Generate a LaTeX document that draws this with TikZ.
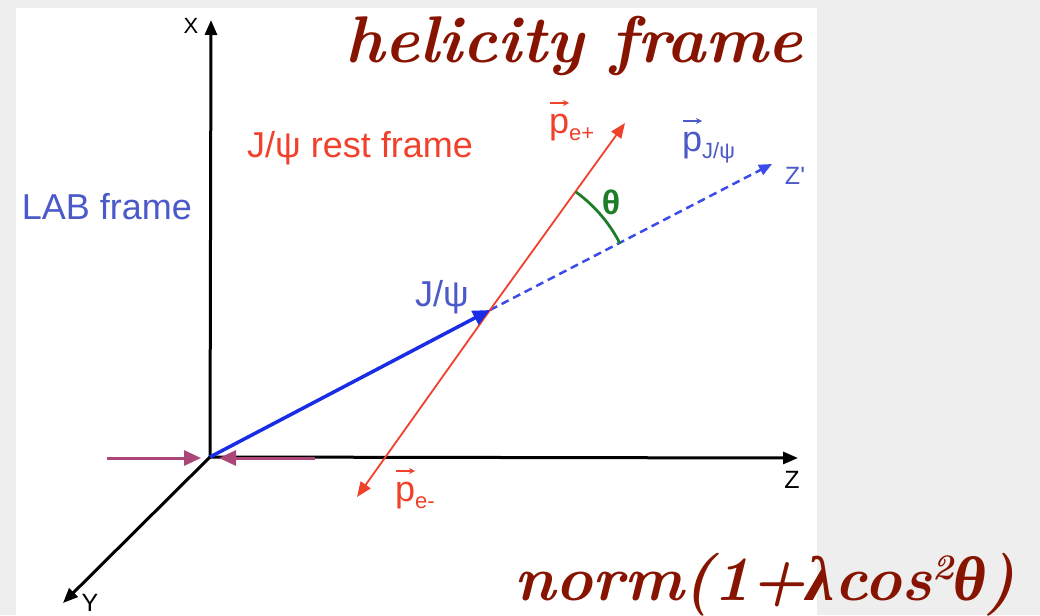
\documentclass[tikz,border=0pt]{standalone}
\usepackage{fontspec}
\newfontfamily\sansf{Liberation Sans}
\newfontfamily\grkf{Liberation Serif}
\usetikzlibrary{arrows.meta}
\definecolor{bggray}{HTML}{EEEEEE}
\definecolor{dred}{RGB}{135,20,0}
\definecolor{lblue}{RGB}{75,90,200}
\definecolor{ablue}{RGB}{25,45,230}
\definecolor{pred}{RGB}{240,65,45}
\definecolor{tgreen}{RGB}{30,125,40}
\definecolor{mag}{RGB}{170,70,120}
\tikzset{
  axisarrow/.style={line width=3pt, black, -{Triangle[length=15pt,width=12pt]}},
  beamarrow/.style={line width=3pt, mag, -{Triangle[length=17pt,width=15pt]}},
  jarrow/.style={line width=3.5pt, ablue, -{Triangle[length=17pt,width=15pt]}},
  dasharrow/.style={line width=2.5pt, ablue!85!white, dash pattern=on 8pt off 5pt, -{Triangle[length=13pt,width=11pt]}},
  earrow/.style={line width=1.8pt, pred, -{Triangle[length=15pt,width=12pt]}},
  vecarr/.style={line width=1.3pt, -{Stealth[length=6pt,width=6pt]}},
  lbl/.style={font=\sansf\fontsize{36}{38}\selectfont, inner sep=0pt},
  smalllbl/.style={font=\sansf\fontsize{25}{26}\selectfont, inner sep=0pt},
  titlelbl/.style={font=\bfseries\itshape\fontsize{66}{72}\selectfont, text=dred, inner sep=0pt, anchor=base west}
}
\newcommand{\subtxt}[1]{\raisebox{-7pt}{\fontsize{22}{22}\selectfont #1}}
\newcommand{\grk}[1]{{\grkf\bfseries\itshape #1}}
\newcommand{\suptwo}{\raisebox{21pt}{\fontsize{36}{36}\selectfont 2}}
\begin{document}
\begin{tikzpicture}[x=1pt,y=-1pt]
\useasboundingbox (0,0) rectangle (1040,615);
\fill[bggray] (0,0) rectangle (1040,615);
\fill[white] (16,8) rectangle (817,615);
% coordinates
\coordinate (O) at (210,457);
\coordinate (Xt) at (211,20);
\coordinate (Yt) at (63,603);
\coordinate (Zt) at (798,458);
\coordinate (Bl) at (107,458);
\coordinate (Blt) at (201,458);
\coordinate (Br) at (315,458);
\coordinate (Brt) at (219,458);
\coordinate (J) at (490,310);
\coordinate (Zp) at (772,164);
\coordinate (Ep) at (625,123);
\coordinate (Em) at (357,497);
% axes
\draw[axisarrow] (O) -- (Xt);
\draw[axisarrow] (O) -- (Zt);
\draw[axisarrow] (O) -- (Yt);
% beams
\draw[beamarrow] (Bl) -- (Blt);
\draw[beamarrow] (Br) -- (Brt);
% J/psi
\draw[dasharrow] (J) -- (Zp);
\draw[earrow] (J) -- (Ep);
\draw[earrow] (J) -- (Em);
\draw[jarrow] (O) -- (J);
% theta arc
\draw[tgreen, line width=2.8pt] ([shift={(-54:146)}]J) arc[start angle=-54, end angle=-27, radius=146];
% labels
\node[smalllbl, font=\sansf\fontsize{22}{23}\selectfont] (xl) at (191,26) {X};
\node[smalllbl] (yl) at (90,603) {Y};
\node[smalllbl] (zl) at (792,480) {Z};
\node[smalllbl, text=lblue] (zpl) at (795,176) {Z'};
\node[lbl, text=lblue] (lab) at (107,207) {LAB frame};
\node[lbl, text=pred] (rest) at (360,148) {J/ψ rest frame};
\node[lbl, text=lblue] (jpsi) at (442,297) {J/ψ};
\node[font=\sansf\bfseries\fontsize{34}{36}\selectfont, text=tgreen, inner sep=0pt] (th) at (611,202) {θ};
\node[lbl, text=pred, anchor=base west] (pep) at (549,133) {p\subtxt{e+}};
\node[lbl, text=lblue, anchor=base west] (pj) at (682,151) {p\subtxt{J/ψ}};
\node[lbl, text=pred, anchor=base west] (pem) at (395,501) {p\subtxt{e-}};
\draw[vecarr, pred] ([shift={(1,-30)}]pep.base west) -- ++(19,0);
\draw[vecarr, lblue] ([shift={(1,-30)}]pj.base west) -- ++(19,0);
\draw[vecarr, pred] ([shift={(1,-30)}]pem.base west) -- ++(19,0);
% titles
\node[titlelbl] (hel) at (345,63) {helicity frame};
\node[titlelbl, font=\bfseries\itshape\fontsize{63}{70}\selectfont] (norm) at (514,600) {norm(1+\grk{λ}cos\suptwo\grk{θ})};
\end{tikzpicture}
\end{document}
